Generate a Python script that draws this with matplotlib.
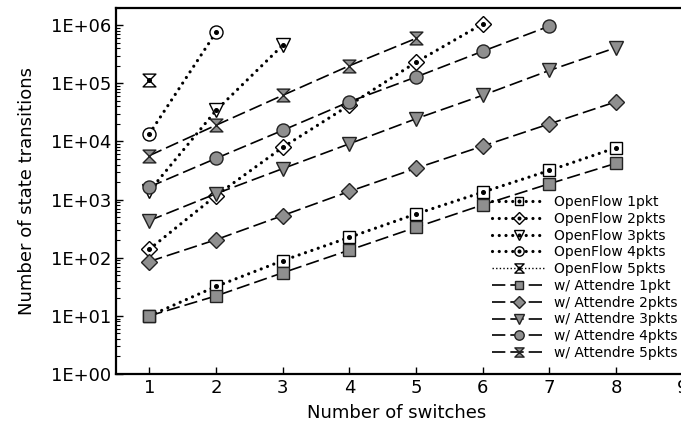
import matplotlib
matplotlib.use("Agg")
import matplotlib.pyplot as plt
from matplotlib.path import Path
from matplotlib.ticker import FuncFormatter, LogLocator, NullFormatter
from matplotlib.legend_handler import HandlerTuple

# values
switches = [1, 2, 3, 4, 5, 6, 7, 8]
of_1pkt = [10, 32, 89, 224, 565, 1340, 3160, 7800]
of_2pkts = [140, 1170, 7900, 42000, 230000, 1050000]
of_3pkts = [1400, 34000, 450000]
of_4pkts = [13500, 750000]
of_5pkts = [112000]
at_1pkt = [10, 22, 55, 135, 333, 810, 1870, 4200]
at_2pkts = [86, 204, 530, 1380, 3450, 8300, 20000, 48000]
at_3pkts = [435, 1260, 3400, 9100, 24500, 62000, 166000, 410000]
at_4pkts = [1650, 5100, 15500, 48000, 128000, 355000, 960000]
at_5pkts = [5700, 19000, 62000, 200000, 590000]

of_labels = ["OpenFlow 1pkt", "OpenFlow 2pkts", "OpenFlow 3pkts",
             "OpenFlow 4pkts", "OpenFlow 5pkts"]
at_labels = ["w/ Attendre 1pkt", "w/ Attendre 2pkts", "w/ Attendre 3pkts",
             "w/ Attendre 4pkts", "w/ Attendre 5pkts"]

hourglass = Path([(-1, 1), (1, 1), (-1, -1), (1, -1), (-1, 1)],
                 [Path.MOVETO, Path.LINETO, Path.LINETO, Path.LINETO, Path.CLOSEPOLY])
markers = ["s", "D", "v", "o", hourglass]
msizes = [8.6, 8.3, 9.4, 9.4, 9.2]
grey = "#8f8f8f"

fig = plt.figure(figsize=(6.81, 4.24), dpi=100)
ax = fig.add_axes([116 / 681, 50 / 424, 600 / 681, 366.4 / 424])

handles = []
labels = []
of_series = [of_1pkt, of_2pkts, of_3pkts, of_4pkts, of_5pkts]
for i, ys in enumerate(of_series):
    xs = switches[:len(ys)]
    if i == 4:
        ls = dict(lw=1.0, dashes=(1, 1.6))
    else:
        ls = dict(lw=2.3, dashes=(0.01, 2.1), dash_capstyle="round")
    ln, = ax.plot(xs, ys, color="black", marker=markers[i], ms=msizes[i],
                  mfc="white", mec="black", mew=1.0, zorder=2, **ls)
    dot, = ax.plot(xs, ys, ls="none", marker="o", ms=2.6, color="black", zorder=2.1)
    handles.append((ln, dot))
    labels.append(of_labels[i])

at_series = [at_1pkt, at_2pkts, at_3pkts, at_4pkts, at_5pkts]
for i, ys in enumerate(at_series):
    xs = switches[:len(ys)]
    ln, = ax.plot(xs, ys, color="black", lw=1.2, dashes=(8, 3),
                  marker=markers[i], ms=msizes[i], mfc=grey, mec="#222222",
                  mew=1.0, zorder=3)
    handles.append(ln)
    labels.append(at_labels[i])

ax.set_yscale("log")
ax.set_ylim(1, 2e6)
ax.set_xlim(0.5, 9.5)
ax.set_xticks(range(1, 10))
ax.yaxis.set_major_locator(LogLocator(base=10, numticks=10))
ax.yaxis.set_minor_locator(LogLocator(base=10, subs=range(2, 10), numticks=10))
ax.yaxis.set_minor_formatter(NullFormatter())
ax.yaxis.set_major_formatter(FuncFormatter(lambda v, p: f"{v:.0E}"))

ax.tick_params(which="both", direction="in", top=False, right=False, labelsize=13)
ax.tick_params(which="major", length=5, width=1)
ax.tick_params(which="minor", length=3, width=0.8)
for s in ax.spines.values():
    s.set_linewidth(1.6)

ax.set_xlabel("Number of switches", fontsize=13)
ax.set_ylabel("Number of state transitions", fontsize=13)
ax.xaxis.set_label_coords(281 / 600, -30 / 366.4)
ax.yaxis.set_label_coords(-80 / 600, 0.5)

ax.legend(handles, labels, handler_map={tuple: HandlerTuple(ndivide=1)},
          loc="lower right", bbox_to_anchor=(677 / 681, 64 / 424),
          bbox_transform=fig.transFigure, frameon=False, fontsize=10,
          numpoints=1, markerscale=0.72, handlelength=3.8, handletextpad=0.6,
          labelspacing=0.2, borderpad=0, borderaxespad=0)

fig.savefig("out.png", dpi=100)
